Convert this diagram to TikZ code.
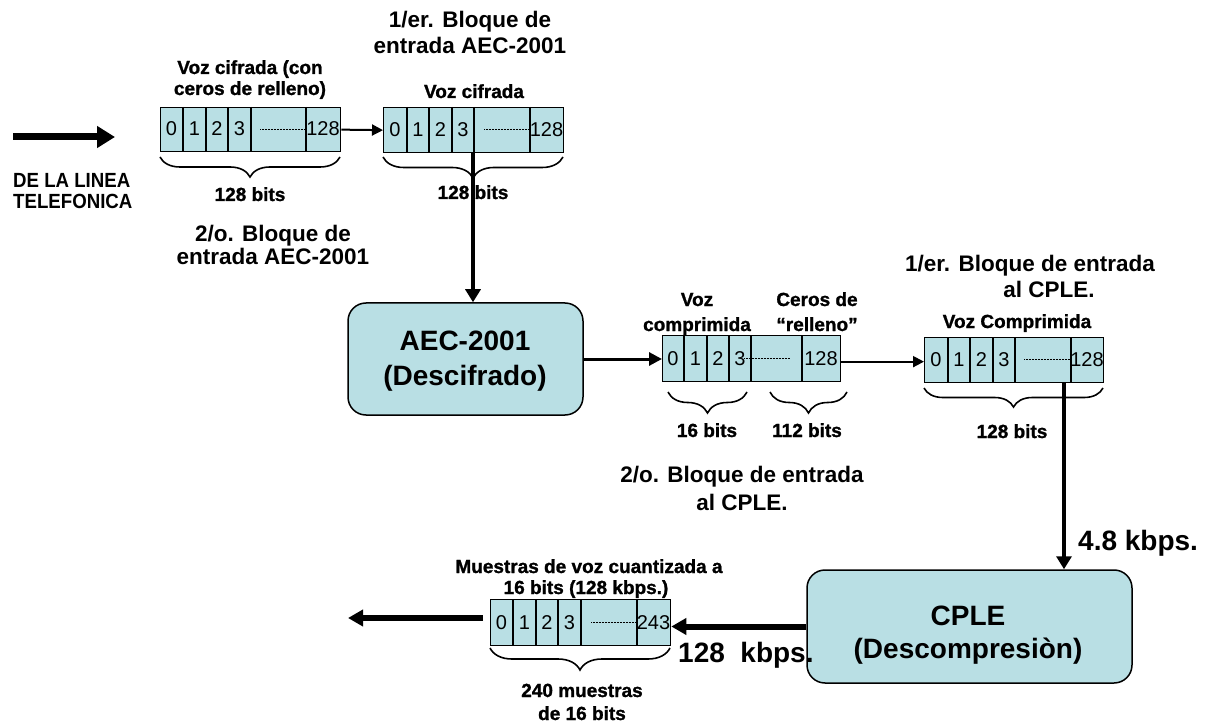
\documentclass[tikz,border=0pt]{standalone}
\usepackage{fontspec}
\usepackage{graphicx}
\setmainfont{Liberation Sans}
\newfontfamily\heavyfont[BoldFeatures={FakeBold=1.2}]{Liberation Sans}
\usetikzlibrary{arrows.meta,decorations.pathreplacing,calc}
\definecolor{cellfill}{RGB}{185,223,228}
\begin{document}
\begin{tikzpicture}[x=1pt,y=-1pt,
  regbox/.style={draw=black, line width=1.3pt, fill=cellfill, inner sep=0pt, anchor=north west},
  divline/.style={draw=black, line width=1.1pt},
  celltxt/.style={font=\fontsize{20}{20}\selectfont, inner sep=0pt, anchor=base},
  dotline/.style={line width=0.9pt, dash pattern=on 0.8pt off 0.7pt},
  smalllbl/.style={font=\heavyfont\bfseries\fontsize{19}{19}\selectfont, inner sep=0pt, anchor=base},
  midlbl/.style={font=\bfseries\fontsize{22.5}{22.5}\selectfont, inner sep=0pt, anchor=base},
  boxlbl/.style={font=\bfseries\fontsize{28}{28}\selectfont, inner sep=0pt, anchor=base},
  ratelbl/.style={font=\bfseries\fontsize{28}{28}\selectfont, inner sep=0pt, anchor=base west},
  inlbl/.style={font=\bfseries\fontsize{20.5}{20.5}\selectfont, inner sep=0pt, anchor=base west},
  procbox/.style={draw=black, line width=1.5pt, fill=cellfill, rounded corners=18pt, inner sep=0pt},
  bracestyle/.style={decorate, line width=1.6pt},
  thinarrow/.style={line width=2pt, -{Triangle[length=11pt,width=11pt]}},
  medarrow/.style={line width=3pt, -{Triangle[length=13pt,width=13pt]}},
  thickarrow/.style={line width=4.5pt, -{Triangle[length=13pt,width=15pt]}},
  outarrow/.style={line width=6pt, -{Triangle[length=15pt,width=16pt]}},
  inarrow/.style={line width=7pt, -{Triangle[length=18pt,width=21pt]}},
]
\useasboundingbox (0,0) rectangle (1211,722);

% ---------- register 1 ----------
\node[regbox, minimum width=180pt, minimum height=44pt] (r1) at (160,107) {};
\foreach \d in {183,206,228,251,306} \draw[divline] (\d,107) -- (\d,151);
\foreach \c/\t [count=\i] in {171.5/0,194.5/1,217/2,239.5/3} \node[celltxt] (r1c\i) at (\c,136) {\t};
\node[celltxt] (r1last) at (323,136) {128};
\draw[dotline] (260,129) -- (306,129);
\draw[bracestyle, decoration={brace,amplitude=20pt}] (340,157) -- (160,157);

% ---------- register 2 ----------
\node[regbox, minimum width=180pt, minimum height=45pt] (r2) at (383,107) {};
\foreach \d in {407,429,452,474,530} \draw[divline] (\d,107) -- (\d,152);
\foreach \c/\t [count=\i] in {395/0,418/1,440.5/2,463/3} \node[celltxt] (r2c\i) at (\c,136.5) {\t};
\node[celltxt] (r2last) at (546.5,136.5) {128};
\draw[dotline] (484,129.5) -- (530,129.5);
\draw[bracestyle, decoration={brace,amplitude=21pt}] (563,157) -- (383,157);

% ---------- register 3 ----------
\node[regbox, minimum width=178pt, minimum height=46pt] (r3) at (662,335) {};
\foreach \d in {684,707,729,751,802} \draw[divline] (\d,335) -- (\d,381);
\foreach \c/\t [count=\i] in {673/0,695.5/1,718/2,740/3} \node[celltxt] (r3c\i) at (\c,365) {\t};
\node[celltxt] (r3last) at (821,365) {128};
\draw[dotline] (744,358) -- (790,358);
\draw[bracestyle, decoration={brace,amplitude=21pt}] (747,392) -- (668,392);
\draw[bracestyle, decoration={brace,amplitude=21pt}] (847,392) -- (770,392);

% ---------- register 4 ----------
\node[regbox, minimum width=179pt, minimum height=45pt] (r4) at (924,337) {};
\foreach \d in {948,970,993,1015,1071} \draw[divline] (\d,337) -- (\d,382);
\foreach \c/\t [count=\i] in {936/0,959/1,981.5/2,1004/3} \node[celltxt] (r4c\i) at (\c,366.5) {\t};
\node[celltxt] (r4last) at (1087,366.5) {128};
\draw[dotline] (1024,359.5) -- (1071,359.5);
\draw[bracestyle, decoration={brace,amplitude=19pt}] (1103,388) -- (924,388);

% ---------- register 5 ----------
\node[regbox, minimum width=180pt, minimum height=46pt] (r5) at (490,599) {};
\foreach \d in {513,536,558,581,637} \draw[divline] (\d,599) -- (\d,645);
\foreach \c/\t [count=\i] in {501.5/0,524.5/1,547/2,569.5/3} \node[celltxt] (r5c\i) at (\c,629) {\t};
\node[celltxt] (r5last) at (653.5,629) {243};
\draw[dotline] (591,622) -- (637,622);
\draw[bracestyle, decoration={brace,amplitude=22pt}] (670,648) -- (490,648);

% ---------- process boxes ----------
\node[procbox, minimum width=235pt, minimum height=112pt] (aec) at (465.5,359) {};
\node[boxlbl] (aec1) at (465,350) {AEC-2001};
\node[boxlbl] (aec2) at (465,385) {(Descifrado)};
\node[procbox, minimum width=325pt, minimum height=113pt] (cple) at (969.5,626.5) {};
\node[boxlbl] (cple1) at (968,625) {CPLE};
\node[boxlbl] (cple2) at (968,658) {(Descompresiòn)};

% ---------- labels ----------
\node[smalllbl] (l1a) at (250,74) {Voz cifrada (con};
\node[smalllbl] (l1b) at (250,95) {ceros de relleno)};
\node[smalllbl] (l1c) at (250,201) {128 bits};
\node[inlbl] (in1) at (13,188) {\scalebox{0.91}[1]{DE LA LINEA}};
\node[inlbl] (in2) at (13,208.5) {\scalebox{0.91}[1]{TELEFONICA}};
\node[midlbl] (l2a) at (470,28) {1/er. Bloque de};
\node[midlbl] (l2b) at (470,54) {entrada AEC-2001};
\node[smalllbl] (l2c) at (474,98) {Voz cifrada};
\node[smalllbl] (l2d) at (473,199) {128 bits};
\node[midlbl] (l3a) at (273,242) {2/o. Bloque de};
\node[midlbl] (l3b) at (273,265) {entrada AEC-2001};
\node[smalllbl] (l4a) at (697,306) {Voz};
\node[smalllbl] (l4b) at (697,331) {comprimida};
\node[smalllbl] (l4c) at (817,306) {Ceros de};
\node[smalllbl] (l4d) at (817,331) {“relleno”};
\node[smalllbl] (l4e) at (707,437) {16 bits};
\node[smalllbl] (l4f) at (807,437) {112 bits};
\node[midlbl] (l5a) at (742,482) {2/o. Bloque de entrada};
\node[midlbl] (l5b) at (742,510) {al CPLE.};
\node[midlbl] (l6a) at (1030,272) {1/er. Bloque de entrada};
\node[midlbl] (l6b) at (1049,298) {al CPLE.};
\node[smalllbl] (l6c) at (1017,328) {Voz Comprimida};
\node[smalllbl] (l6d) at (1012,438) {128 bits};
\node[ratelbl] (rate1) at (1078,550) {4.8 kbps.};
\node[ratelbl] (rate2) at (678,662) {128~~kbps.};
\node[smalllbl] (l7a) at (589,573) {Muestras de voz cuantizada a};
\node[smalllbl] (l7b) at (586,594) {16 bits (128 kbps.)};
\node[smalllbl] (l7c) at (582,697) {240 muestras};
\node[smalllbl] (l7d) at (582,720) {de 16 bits};

% ---------- connectors ----------
\coordinate (inA) at (13,137);
\coordinate (inB) at (115,137);
\draw[inarrow] (inA) -- (inB);
\draw[thinarrow] (r1.east) -- (r2.west);
\coordinate (colA) at (473,0);
\draw[thickarrow] (r2.south -| colA) -- (aec.north -| colA);
\draw[medarrow] (aec.east) -- (aec.east -| r3.west);
\draw[thinarrow] ([yshift=-3pt]r3.east) -- ([yshift=-3pt]r3.east -| r4.west);
\coordinate (colB) at (1064,0);
\draw[thickarrow] (r4.south -| colB) -- (cple.north -| colB);
\draw[outarrow] (cple.west) -- (cple.west -| r5.east);
\coordinate (outA) at (483,618);
\coordinate (outB) at (348,618);
\draw[outarrow] (outA) -- (outB);
\end{tikzpicture}
\end{document}
